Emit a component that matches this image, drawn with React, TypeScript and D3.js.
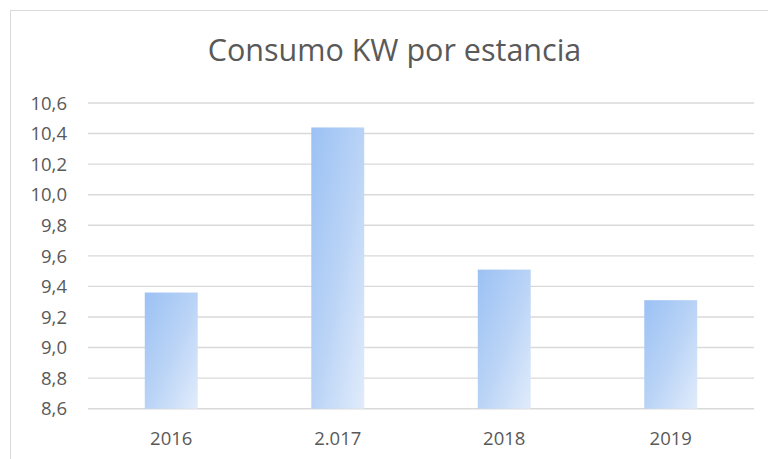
import React from "react";
import * as d3 from "d3";

const categories = ["2016", "2.017", "2018", "2019"];
const values = [9.36, 10.44, 9.51, 9.31];
const yTicks = [8.6, 8.8, 9.0, 9.2, 9.4, 9.6, 9.8, 10.0, 10.2, 10.4, 10.6];
const title = "Consumo KW por estancia";

const W = 768;
const H = 459;
const plot = { left: 88, right: 754, top: 103, bottom: 408.7 };

export default function App() {
  const x = d3
    .scaleBand<string>()
    .domain(categories)
    .range([plot.left, plot.right])
    .paddingInner(0.682)
    .paddingOuter(0.341);
  const y = d3.scaleLinear().domain([8.6, 10.6]).range([plot.bottom, plot.top]);
  const fmt = (v: number) => d3.format(".1f")(v).replace(".", ",");
  const font = "'Open Sans', 'Noto Sans', sans-serif";
  const textColor = "#595959";

  return (
    <svg
      width={W}
      height={H}
      style={{ position: "absolute", left: 0, top: 0, background: "#fff" }}
    >
      <defs>
        <linearGradient id="barGrad" x1="0" y1="0" x2="1" y2="1">
          <stop offset="0" stopColor="#9bc1f4" />
          <stop offset="0.5" stopColor="#b9d3f6" />
          <stop offset="1" stopColor="#e1ecfb" />
        </linearGradient>
      </defs>
      <rect x={10.5} y={10.5} width={W + 20} height={H + 20} fill="#fff" stroke="#d9d9d9" strokeWidth={1} />
      <text
        x={394.5}
        y={60.5}
        textAnchor="middle"
        fontFamily={font}
        fontSize={30.5}
        fill={textColor}
      >
        {title}
      </text>
      {yTicks.map((t) => (
        <g key={t}>
          <line
            x1={plot.left}
            x2={plot.right}
            y1={y(t)}
            y2={y(t)}
            stroke="#d9d9d9"
            strokeWidth={1.4}
          />
          <text
            x={67}
            y={y(t)}
            dy="0.36em"
            textAnchor="end"
            fontFamily={font}
            fontSize={18.5}
            fill={textColor}
          >
            {fmt(t)}
          </text>
        </g>
      ))}
      {categories.map((c, i) => (
        <rect
          key={c}
          x={x(c)}
          y={y(values[i])}
          width={x.bandwidth()}
          height={plot.bottom - y(values[i])}
          fill="url(#barGrad)"
        />
      ))}
      {categories.map((c) => (
        <text
          key={c}
          x={(x(c) as number) + x.bandwidth() / 2}
          y={445}
          textAnchor="middle"
          fontFamily={font}
          fontSize={18.5}
          fill={textColor}
        >
          {c}
        </text>
      ))}
    </svg>
  );
}
